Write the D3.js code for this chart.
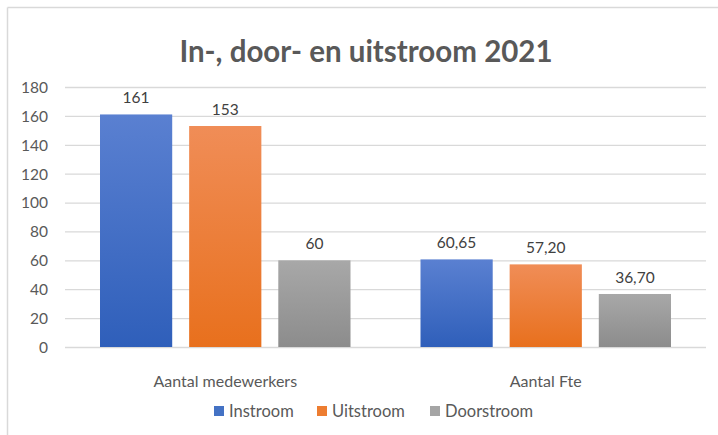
<!DOCTYPE html>
<html>
<head>
<meta charset="utf-8">
<script src="https://cdn.jsdelivr.net/npm/d3@7"></script>
<style>
  body { margin: 0; background: #fff; }
  text { font-family: Lato, "Open Sans", sans-serif; }
</style>
</head>
<body>
<div id="chart"></div>
<script>
// data
const categories = ["Aantal medewerkers", "Aantal Fte"]
const series = ["Instroom", "Uitstroom", "Doorstroom"]
const instroom = [161, 60.65]
const uitstroom = [153, 57.20]
const doorstroom = [60, 36.70]
const labels = [["161", "153", "60"], ["60,65", "57,20", "36,70"]]
const yTicks = [0, 20, 40, 60, 80, 100, 120, 140, 160, 180]

const values = [instroom, uitstroom, doorstroom]

var width = 718,
    height = 435,
    left = 65,
    right = 706,
    top_ = 87,
    bottom = 347

var svg = d3.select("#chart").append("svg")
    .attr("width", width)
    .attr("height", height)

// gradients for the bars
var grads = [["#5a80d1", "#2f5fba"], ["#f08d57", "#e8701d"], ["#a8a8a8", "#8c8c8c"]]
var defs = svg.append("defs")
grads.forEach(function (c, i) {
  var lg = defs.append("linearGradient")
      .attr("id", "grad" + i)
      .attr("x1", 0).attr("y1", 0).attr("x2", 0).attr("y2", 1)
  lg.append("stop").attr("offset", "0%").attr("stop-color", c[0])
  lg.append("stop").attr("offset", "100%").attr("stop-color", c[1])
})
var legendColors = ["#4472c4", "#ed7d31", "#a5a5a5"]

// frame (cropped at right and bottom)
svg.append("line").attr("x1", 7.5).attr("x2", width).attr("y1", 7.5).attr("y2", 7.5)
    .style("stroke", "#d9d9d9").style("stroke-width", 1.5)
svg.append("line").attr("x1", 7.5).attr("x2", 7.5).attr("y1", 7.5).attr("y2", height)
    .style("stroke", "#d9d9d9").style("stroke-width", 1.5)

// title
svg.append("text")
    .attr("x", 366)
    .attr("y", 62)
    .attr("text-anchor", "middle")
    .style("font-size", "29.5px")
    .style("font-weight", "bold")
    .style("fill", "#595959")
    .text("In-, door- en uitstroom 2021")

var y = d3.scaleLinear().domain([0, 180]).range([bottom, top_])
var x0 = d3.scaleBand().domain(categories).range([left, right])
var x1 = d3.scaleBand().domain(series).range([35, x0.bandwidth() - 35]).paddingInner(0.19)

// grid
var grid = svg.append("g")
  .call(d3.axisLeft(y).tickValues(yTicks).tickSize(0).tickFormat(function (d) { return d }))
grid.select(".domain").remove()
grid.selectAll("line").remove()
grid.selectAll(".tick").append("line")
    .attr("x1", left).attr("x2", right)
    .style("stroke", "#d9d9d9").style("stroke-width", 1.3)
grid.selectAll(".tick text")
    .attr("x", 48)
    .attr("dy", "0.35em")
    .style("font-size", "15.5px")
    .style("font-family", "Lato, sans-serif")
    .style("fill", "#595959")
    .style("text-anchor", "end")

// bars
var groups = svg.selectAll(".cat")
  .data(categories)
  .enter().append("g")
    .attr("transform", function (d) { return "translate(" + x0(d) + ",0)" })

series.forEach(function (s, si) {
  groups.append("rect")
      .attr("x", x1(s))
      .attr("y", function (d, ci) { return y(values[si][ci]) })
      .attr("width", x1.bandwidth())
      .attr("height", function (d, ci) { return bottom - y(values[si][ci]) })
      .style("fill", "url(#grad" + si + ")")
  groups.append("text")
      .attr("x", x1(s) + x1.bandwidth() / 2)
      .attr("y", function (d, ci) { return y(values[si][ci]) - 11 })
      .attr("text-anchor", "middle")
      .style("font-size", "15.5px")
      .style("fill", "#404040")
      .text(function (d, ci) { return labels[ci][si] })
})

// x axis labels
var xa = svg.append("g")
  .attr("transform", "translate(0," + bottom + ")")
  .call(d3.axisBottom(x0).tickSize(0))
xa.select(".domain").remove()
xa.selectAll("text")
    .attr("y", 29)
    .style("font-size", "16px")
    .style("font-family", "Lato, sans-serif")
    .style("fill", "#595959")

// legend
var legendX = [214, 317, 430]
var legend = svg.append("g")
series.forEach(function (s, i) {
  legend.append("rect")
      .attr("x", legendX[i]).attr("y", 406)
      .attr("width", 10).attr("height", 10)
      .style("fill", legendColors[i])
  legend.append("text")
      .attr("x", legendX[i] + 15).attr("y", 416.5)
      .style("font-size", "16.5px")
      .style("fill", "#595959")
      .text(s)
})
</script>
</body>
</html>
